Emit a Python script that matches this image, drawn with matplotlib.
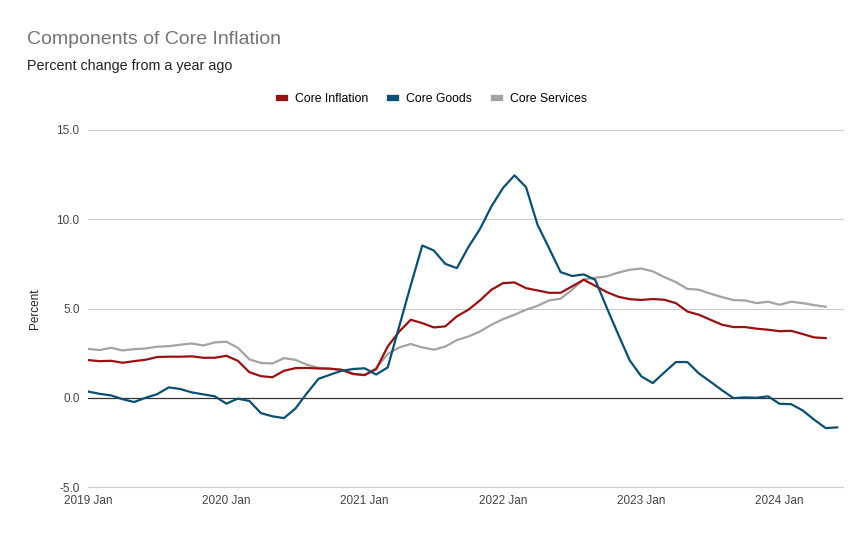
from matplotlib import pyplot as plt
import numpy as np

plt.rcParams['font.family'] = ['Liberation Sans', 'DejaVu Sans']

RED = '#991111'
BLUE = '#0b4f71'
GREY = '#a3a3a3'

# monthly, 2019 Jan .. 2024 Jun
core_inflation = [2.11, 2.05, 2.07, 1.96, 2.05, 2.13, 2.28, 2.30, 2.30, 2.32, 2.24, 2.24,
                  2.35, 2.07, 1.43, 1.21, 1.15, 1.51, 1.66, 1.67, 1.64, 1.63, 1.57, 1.33,
                  1.27, 1.60, 2.87, 3.71, 4.37, 4.18, 3.94, 4.00, 4.56, 4.93, 5.45, 6.05,
                  6.42, 6.46, 6.14, 6.01, 5.88, 5.88, 6.24, 6.61, 6.27, 5.92, 5.66, 5.52,
                  5.48, 5.53, 5.49, 5.30, 4.83, 4.65, 4.37, 4.09, 3.96, 3.96, 3.87, 3.81,
                  3.73, 3.75, 3.57, 3.38, 3.34, np.nan]
core_goods = [0.35, 0.22, 0.13, -0.08, -0.24, 0.00, 0.20, 0.58, 0.49, 0.30, 0.19, 0.08,
              -0.33, -0.05, -0.18, -0.86, -1.04, -1.14, -0.60, 0.26, 1.06, 1.29, 1.51, 1.61,
              1.65, 1.30, 1.70, 4.00, 6.30, 8.53, 8.25, 7.50, 7.26, 8.44, 9.45, 10.72,
              11.75, 12.46, 11.80, 9.69, 8.38, 7.04, 6.82, 6.91, 6.61, 5.05, 3.55, 2.09,
              1.20, 0.82, 1.42, 2.00, 2.00, 1.36, 0.90, 0.42, -0.02, 0.02, 0.00, 0.08,
              -0.34, -0.36, -0.71, -1.23, -1.70, -1.66]
core_services = [2.74, 2.67, 2.80, 2.65, 2.72, 2.76, 2.86, 2.89, 2.97, 3.04, 2.93, 3.10,
                 3.14, 2.80, 2.15, 1.95, 1.92, 2.22, 2.12, 1.85, 1.68, 1.62, 1.55, 1.35,
                 1.27, 1.66, 2.45, 2.82, 3.01, 2.82, 2.69, 2.87, 3.23, 3.43, 3.71, 4.09,
                 4.40, 4.65, 4.93, 5.15, 5.45, 5.55, 6.05, 6.63, 6.72, 6.80, 7.01, 7.17,
                 7.24, 7.08, 6.76, 6.48, 6.10, 6.05, 5.83, 5.64, 5.47, 5.45, 5.30, 5.38,
                 5.21, 5.38, 5.30, 5.19, 5.10, np.nan]
year_ticks = [0, 12, 24, 36, 48, 60]
year_labels = ['2019 Jan', '2020 Jan', '2021 Jan', '2022 Jan', '2023 Jan', '2024 Jan']
y_ticks = [-5, 0, 5, 10, 15]

months = np.arange(len(core_goods))

fig = plt.figure(figsize=(8.64, 5.35), dpi=100)
ax = fig.add_axes([88/864, 1-487/535, (843-88)/864, (487-130)/535])

ax.plot(months, core_inflation, color=RED, lw=1.6, label='Core Inflation', zorder=3)
ax.plot(months, core_goods, color=BLUE, lw=1.6, label='Core Goods', zorder=3)
ax.plot(months, core_services, color=GREY, lw=1.6, label='Core Services', zorder=2)

ax.set_xlim(0, 65.5)
ax.set_ylim(-5, 15)
ax.set_yticks(y_ticks)
ax.set_yticklabels(['%.1f' % v for v in y_ticks])
ax.set_xticks(year_ticks)
ax.set_xticklabels(year_labels)
ax.tick_params(length=0, labelsize=8.5, labelcolor='#444444')
ax.tick_params(axis='y', pad=6)
ax.tick_params(axis='x', pad=6)
for v in y_ticks:
    if v != 0:
        ax.axhline(v, color='#cccccc', lw=0.8, zorder=1, clip_on=False)
ax.axhline(0, color='#333333', lw=0.9, zorder=1)
for s in ax.spines.values():
    s.set_visible(False)

ax.set_ylabel('Percent', fontsize=8.5, color='#222222', labelpad=11)

fig.text(27/864, 1-40/535, 'Components of Core Inflation', fontsize=14, color='#757575', va='center')
fig.text(27/864, 1-66/535, 'Percent change from a year ago', fontsize=10.3, color='#222222', va='center')

leg = fig.legend(loc='center', bbox_to_anchor=(433/864, 1-99/535), ncol=3, frameon=False,
                 fontsize=8.8, handlelength=0.5, handletextpad=0.8, columnspacing=1.8)
for line in leg.get_lines():
    line.set_linewidth(4.5)

plt.savefig('out.png')
